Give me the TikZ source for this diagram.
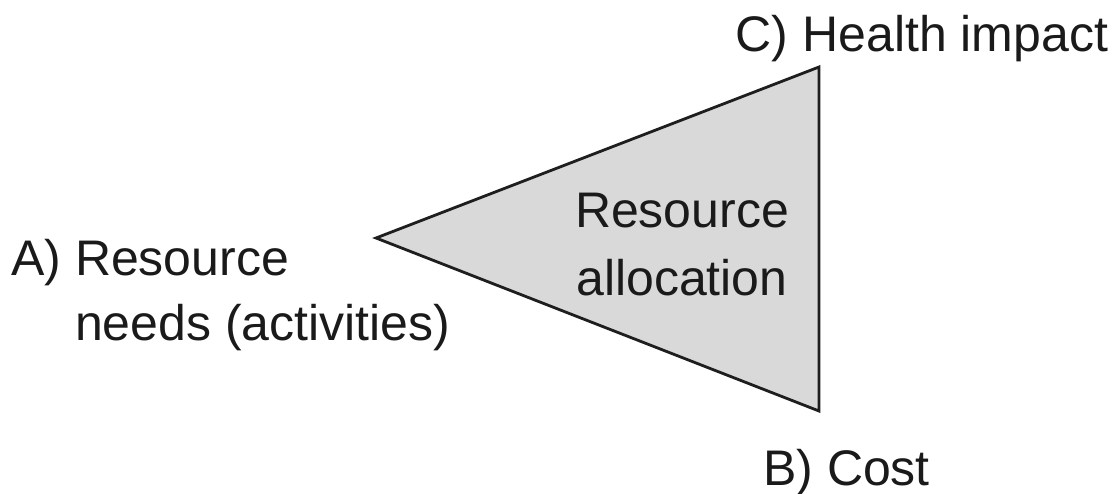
\documentclass[tikz,border=0pt]{standalone}
\usepackage{fontspec}
\setmainfont{Liberation Sans}
\definecolor{tri}{HTML}{D9D9D9}
\definecolor{edge}{HTML}{1E1E1E}
\definecolor{ink}{HTML}{1A1A1A}
\tikzset{
  lbl/.style={inner sep=0pt, text=ink, font=\fontsize{50}{65}\selectfont},
  trishape/.style={fill=tri, draw=edge, line width=2.8pt, line join=miter}
}
\begin{document}
\begin{tikzpicture}[x=1pt,y=-1pt]
\useasboundingbox (0,0) rectangle (1118,493);
\coordinate (L) at (376,238);
\coordinate (T) at (819,67);
\coordinate (Bt) at (819,411);
\path[trishape] (L) -- (T) -- (Bt) -- cycle;
\node[lbl, anchor=base west] (c) at (735.5,51) {C) Health impact};
\node[lbl, anchor=base west, align=left] (a) at (11,340) {A) Resource\\\phantom{A) }needs (activities)};
\node[lbl, anchor=base west] (b) at (763,485) {B) Cost};
\node[lbl, anchor=base, align=center, font=\fontsize{50}{68}\selectfont] (r) at (682,295) {Resource\\allocation};
\end{tikzpicture}
\end{document}
